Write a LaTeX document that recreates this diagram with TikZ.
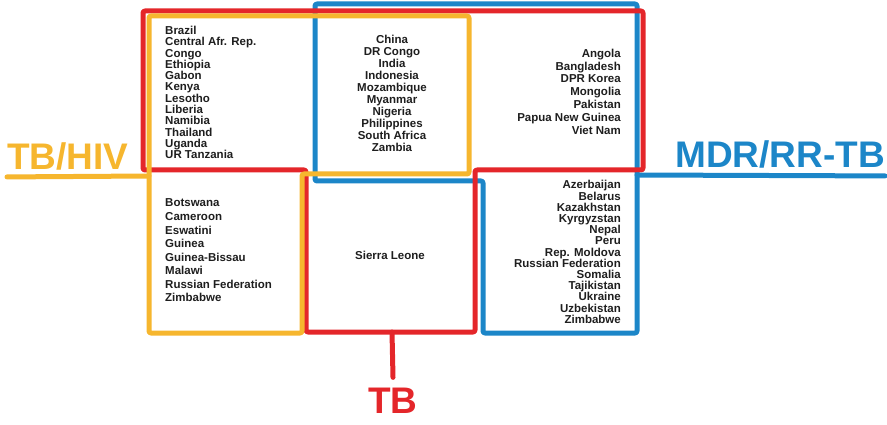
\documentclass[tikz,border=0pt]{standalone}
\usepackage{fontspec,xcolor}
\setmainfont{Liberation Sans}
\definecolor{TBred}{RGB}{228,38,42}
\definecolor{HIVyellow}{RGB}{246,182,46}
\definecolor{MDRblue}{RGB}{28,134,200}
\definecolor{names}{RGB}{30,30,30}

\begin{document}
\begin{tikzpicture}[x=1pt,y=-1pt,
		edge/.style={line width=5pt,line cap=round,line join=round,rounded corners=2pt},
		countries/.style={inner sep=0,text=names,font=\bfseries\fontsize{11.5}{#1}\selectfont},
		bigname/.style={inner sep=0,font=\bfseries\fontsize{37}{37}\selectfont}]
		\useasboundingbox (0,0) rectangle (887,425);
		\draw[edge,MDRblue] (315,181) -- (315,4) -- (637,4) -- (637,333) -- (483,333) -- (483,181) -- cycle;
		\draw[edge,TBred] (143,11) -- (643,11) -- (643,170) -- (475,170) -- (475,332) -- (306,332) -- (306,170) -- (143,170) -- cycle;
		\draw[edge,HIVyellow] (149,16) -- (469,16) -- (469,174) -- (302,174) -- (302,333) -- (149,333) -- cycle;
		\node[bigname,text=HIVyellow,anchor=base west] (hivlab) at (7,170) {TB/HIV};
		\node[bigname,text=MDRblue,anchor=base east] (mdrlab) at (885,168) {MDR/RR-TB};
		\node[bigname,text=TBred,anchor=base] (tblab) at (393,413) {TB};
		\draw[edge,HIVyellow] ([yshift=-6pt]hivlab.south west) -- (149,176);
		\draw[edge,MDRblue] (637,175) -- ([yshift=-7pt]mdrlab.south east);
		\draw[edge,TBred] (392,332) -- ([yshift=10pt]tblab.north);
		\node[countries=11.3,align=left,anchor=west] (tbhiv) at (165,92.5) {Brazil\\Central Afr. Rep.\\Congo\\Ethiopia\\Gabon\\Kenya\\Lesotho\\Liberia\\Namibia\\Thailand\\Uganda\\UR Tanzania};
		\node[countries=12,align=center] (allthree) at (392,93.5) {China\\DR Congo\\India\\Indonesia\\Mozambique\\Myanmar\\Nigeria\\Philippines\\South Africa\\Zambia};
		\node[countries=12.8,align=right,anchor=east] (tbmdr) at (621,91.5) {Angola\\Bangladesh\\DPR Korea\\Mongolia\\Pakistan\\Papua New Guinea\\Viet Nam};
		\node[countries=13.6,align=left,anchor=west] (hivonly) at (165,250.5) {Botswana\\Cameroon\\Eswatini\\Guinea\\Guinea-Bissau\\Malawi\\Russian Federation\\Zimbabwe};
		\node[countries=12,align=center] (tbonly) at (390,255) {Sierra Leone};
		\node[countries=11.2,align=right,anchor=east] (mdronly) at (621,252) {Azerbaijan\\Belarus\\Kazakhstan\\Kyrgyzstan\\Nepal\\Peru\\Rep. Moldova\\Russian Federation\\Somalia\\Tajikistan\\Ukraine\\Uzbekistan\\Zimbabwe};
\end{tikzpicture}
\end{document}
